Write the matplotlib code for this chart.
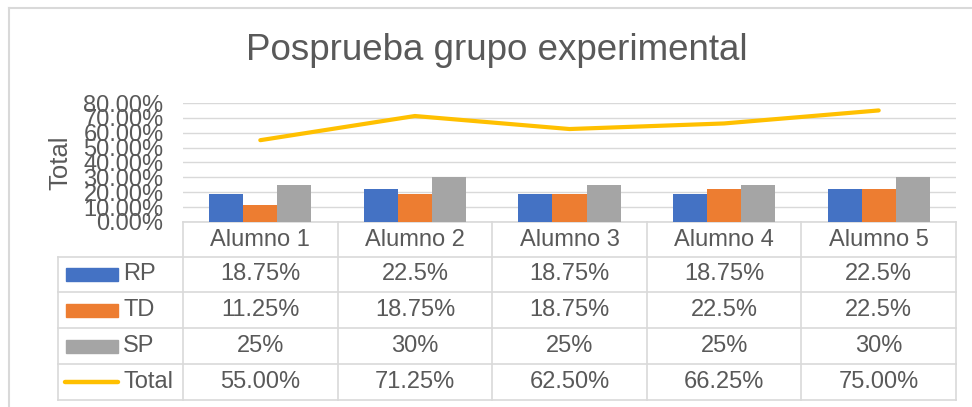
import matplotlib
matplotlib.use('Agg')
from matplotlib import pyplot as plt
from matplotlib.patches import Rectangle

plt.rcParams['font.family'] = ['Liberation Sans', 'DejaVu Sans']

# data
alumnos = ['Alumno 1', 'Alumno 2', 'Alumno 3', 'Alumno 4', 'Alumno 5']
rp = [18.75, 22.5, 18.75, 18.75, 22.5]
td = [11.25, 18.75, 18.75, 22.5, 22.5]
sp = [25, 30, 25, 25, 30]
total = [55.0, 71.25, 62.5, 66.25, 75.0]
yticks = [0, 10, 20, 30, 40, 50, 60, 70, 80]

blue = '#4472C4'
orange = '#ED7D31'
gray = '#A5A5A5'
gold = '#FFC000'
txt = '#595959'
grid = '#D9D9D9'

W, H = 972, 407
fig = plt.figure(figsize=(W / 100, H / 100), dpi=100)

# background axes in pixel coords for frame + data table
bg = fig.add_axes([0, 0, 1, 1])
bg.set_xlim(0, W)
bg.set_ylim(H, 0)
bg.axis('off')
bg.plot([9, W], [8, 8], color=grid, lw=1.5)
bg.plot([9, 9], [8, H], color=grid, lw=1.5)

x0, x1 = 183, 956       # plot area left/right
ytop, ybot = 103, 222   # 80% and 0% lines

bg.text(497, 51, 'Posprueba grupo experimental', fontsize=26.5, color=txt,
        ha='center', va='center')

ax = fig.add_axes([x0 / W, 1 - ybot / H, (x1 - x0) / W, (ybot - ytop) / H])
ax.set_facecolor('none')
pos = list(range(len(alumnos)))
bw = 0.22
ax.bar([p - bw for p in pos], rp, bw, color=blue, zorder=2)
ax.bar(pos, td, bw, color=orange, zorder=2)
ax.bar([p + bw for p in pos], sp, bw, color=gray, zorder=2)
ax.plot(pos, total, color=gold, lw=3, solid_capstyle='round', zorder=3)
ax.set_xlim(-0.5, len(alumnos) - 0.5)
ax.set_ylim(0, 80)
ax.set_yticks(yticks)
ax.set_yticklabels(['%.2f%%' % t for t in yticks], fontsize=17, color=txt)
ax.set_xticks([])
ax.tick_params(axis='y', length=0, pad=14)
ax.yaxis.grid(True, color=grid, lw=1)
ax.set_axisbelow(True)
for s in ax.spines.values():
    s.set_visible(False)
ax.set_ylabel('Total', fontsize=18.5, color=txt)
ax.yaxis.set_label_coords(-(x0 - 72) / (x1 - x0), 0.5)

# data table below the chart
colw = (x1 - x0) / len(alumnos)
rows_y = [222, 256.7, 292, 328, 364, 400]
lk = dict(color=grid, lw=1.2)
bg.plot([x0, x1], [rows_y[0], rows_y[0]], **lk)
for y in rows_y[1:]:
    bg.plot([58, x1], [y, y], **lk)
bg.plot([58, 58], [rows_y[1], rows_y[-1]], **lk)
for i in range(len(alumnos) + 1):
    xx = x0 + i * colw
    bg.plot([xx, xx], [rows_y[0], rows_y[-1]], **lk)

fs = 17
for i, name in enumerate(alumnos):
    bg.text(x0 + (i + 0.5) * colw, (rows_y[0] + rows_y[1]) / 2 + 1, name,
            fontsize=fs, color=txt, ha='center', va='center')

series = [('RP', rp, blue), ('TD', td, orange), ('SP', sp, gray)]
for r, (lab, vals, c) in enumerate(series):
    yc = (rows_y[r + 1] + rows_y[r + 2]) / 2
    bg.add_patch(Rectangle((66, yc - 6.5), 52, 13, color=c))
    bg.text(123, yc, lab, fontsize=fs, color=txt, ha='left', va='center')
    for i, v in enumerate(vals):
        bg.text(x0 + (i + 0.5) * colw, yc, '%g%%' % v, fontsize=fs,
                color=txt, ha='center', va='center')

yc = (rows_y[4] + rows_y[5]) / 2
bg.plot([65, 118], [yc, yc], color=gold, lw=3.2, solid_capstyle='round')
bg.text(123, yc, 'Total', fontsize=fs, color=txt, ha='left', va='center')
for i, v in enumerate(total):
    bg.text(x0 + (i + 0.5) * colw, yc, '%.2f%%' % v, fontsize=fs,
            color=txt, ha='center', va='center')

fig.savefig('out.png', dpi=100)
